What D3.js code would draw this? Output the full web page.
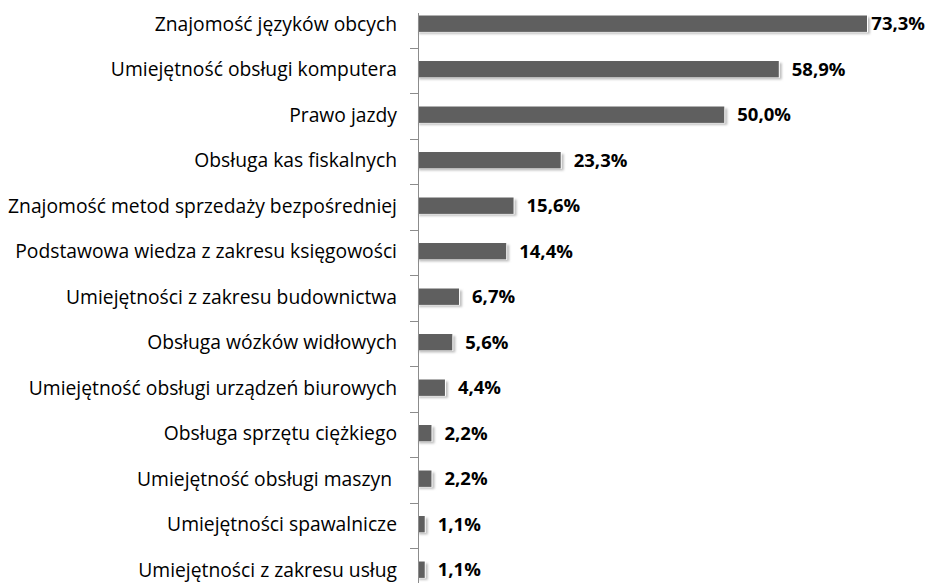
<!DOCTYPE html>
<html><head><meta charset="utf-8">
<script src="https://cdn.jsdelivr.net/npm/d3@7"></script>
<style>body{margin:0;background:#fff} text{white-space:pre}</style>
</head><body>
<svg id="c" width="928" height="583"></svg>
<script>
const categories = ["Znajomość języków obcych","Umiejętność obsługi komputera","Prawo jazdy","Obsługa kas fiskalnych","Znajomość metod sprzedaży bezpośredniej","Podstawowa wiedza z zakresu księgowości","Umiejętności z zakresu budownictwa","Obsługa wózków widłowych","Umiejętność obsługi urządzeń biurowych","Obsługa sprzętu ciężkiego","Umiejętność obsługi maszyn ","Umiejętności spawalnicze","Umiejętności z zakresu usług"];
const values = [73.3,58.9,50.0,23.3,15.6,14.4,6.7,5.6,4.4,2.2,2.2,1.1,1.1];
const valueLabels = ["73,3%","58,9%","50,0%","23,3%","15,6%","14,4%","6,7%","5,6%","4,4%","2,2%","2,2%","1,1%","1,1%"];

const svg = d3.select("#c");
const W = 928;
const font = "'Open Sans', sans-serif";
const x = d3.scaleLinear().domain([0, 73.3]).range([418, 867]);
const y = d3.scaleBand().domain(categories).range([0.95, 592.45]).paddingInner(0.64).paddingOuter(0.32);

const defs = svg.append("defs");
const f = defs.append("filter").attr("id","sh").attr("x","-10%").attr("y","-50%").attr("width","130%").attr("height","250%");
f.append("feGaussianBlur").attr("stdDeviation",1.2);

const data = categories.map((c,i)=>({c, v:values[i], l:valueLabels[i]}));

// shadows
svg.append("g").selectAll("rect").data(data).join("rect")
  .attr("x", x(0)+1).attr("y", d=>y(d.c)+2)
  .attr("width", d=>x(d.v)-x(0)+2).attr("height", y.bandwidth())
  .attr("fill","#bdbdbd").attr("filter","url(#sh)");
// white edge
svg.append("g").selectAll("rect").data(data).join("rect")
  .attr("x", x(0)).attr("y", d=>y(d.c)-0.5)
  .attr("width", d=>x(d.v)-x(0)+1).attr("height", y.bandwidth()+1)
  .attr("fill","#fff");
// bars
svg.append("g").selectAll("rect").data(data).join("rect")
  .attr("x", x(0)).attr("y", d=>y(d.c))
  .attr("width", d=>x(d.v)-x(0)).attr("height", y.bandwidth())
  .attr("fill","#5f5f5f");

// axis
const step = y.step();
const ticks = categories.slice(0, -1).map(c=>y(c)+y.bandwidth()/2+step/2+1.5);
svg.append("line").attr("x1",418.5).attr("x2",418.5).attr("y1",13).attr("y2",583)
  .attr("stroke","#8c8c8c").attr("stroke-width",1);
svg.append("g").selectAll("line").data(ticks).join("line")
  .attr("x1",410).attr("x2",418).attr("y1",d=>Math.round(d)+0.5).attr("y2",d=>Math.round(d)+0.5)
  .attr("stroke","#8c8c8c");

// category labels
svg.append("g").selectAll("text").data(data).join("text")
  .attr("x", 397).attr("y", d=>y(d.c)+y.bandwidth()/2)
  .attr("dy","0.36em").attr("text-anchor","end")
  .attr("font-family",font).attr("font-size",19.3).attr("fill","#000")
  .text(d=>d.c);

// value labels
svg.append("g").selectAll("text").data(data).join("text")
  .attr("y", d=>y(d.c)+y.bandwidth()/2)
  .attr("dy","0.36em")
  .attr("font-family",font).attr("font-size",18.5).attr("font-weight","bold").attr("fill","#000")
  .text(d=>d.l)
  .attr("x", function(d){
    const w = this.getComputedTextLength();
    return Math.min(x(d.v)+13, W - 3 - w);
  });
</script>
</body></html>
